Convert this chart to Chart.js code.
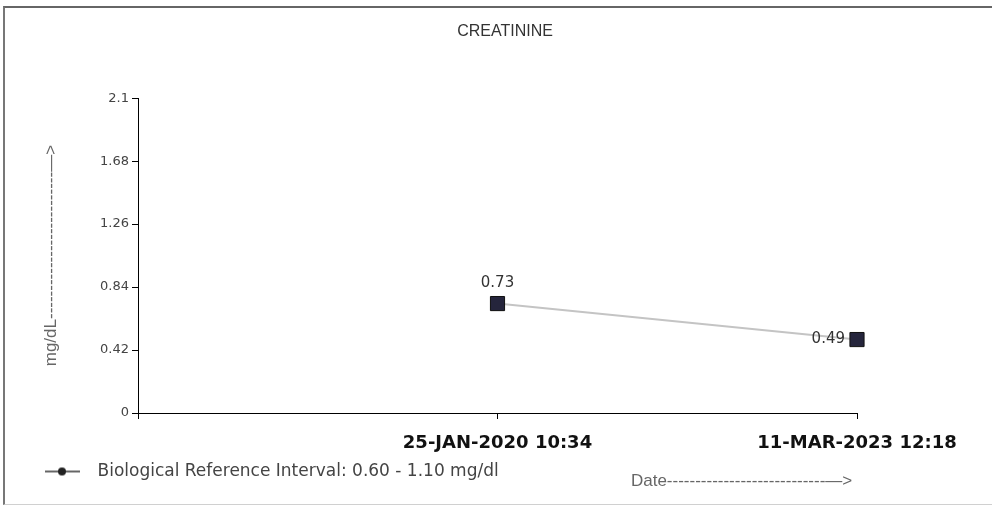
<!DOCTYPE html>
<html><head><meta charset="utf-8">
<script src="https://cdn.jsdelivr.net/npm/chart.js@4.4.0/dist/chart.umd.min.js"></script>
<style>
html,body{margin:0;padding:0;background:#fff;overflow:hidden;}
#wrap{position:relative;width:992px;height:509px;}
#frame{position:absolute;left:3px;top:6px;width:989px;height:496px;border-left:2px solid #777;border-top:2px solid #666;border-bottom:1px solid #d0d0d0;pointer-events:none;}
canvas{position:absolute;left:0;top:0;}
</style></head><body>
<div id="wrap"><canvas id="c" width="992" height="509"></canvas><div id="frame"></div></div>
<script>
const chartTitle = 'CREATININE';
const categories = ['', '25-JAN-2020 10:34', '11-MAR-2023 12:18'];
const values = [null, 0.73, 0.49];
const yTicks = [0, 0.42, 0.84, 1.26, 1.68, 2.1];
const seriesLabel = 'Biological Reference Interval: 0.60 - 1.10 mg/dl';
const yTitle = 'mg/dL';
const xTitle = 'Date';

const yTitleText = yTitle + '-'.repeat(26) + '\u2014>';
const xTitleText = xTitle + '-'.repeat(28) + '\u2014> ';

// legend icon: line with dot
const legendIcon = document.createElement('canvas');
legendIcon.width = 46; legendIcon.height = 12;
(function(){
  const g = legendIcon.getContext('2d');
  g.strokeStyle = '#666'; g.lineWidth = 2;
  g.beginPath(); g.moveTo(2, 6); g.lineTo(37, 6); g.stroke();
  g.fillStyle = '#222'; g.beginPath(); g.arc(19, 6, 4, 0, Math.PI*2); g.fill();
})();

const valueLabels = {
  id: 'valueLabels',
  afterDatasetsDraw(chart, args, opts) {
    const ctx = chart.ctx;
    const meta = chart.getDatasetMeta(0);
    ctx.save();
    ctx.font = opts.font;
    ctx.fillStyle = opts.color;
    meta.data.forEach((pt, i) => {
      const v = chart.data.datasets[0].data[i];
      if (v == null) return;
      if (opts.placement[i] === 'above') {
        ctx.textAlign = 'center'; ctx.textBaseline = 'bottom';
        ctx.fillText(String(v), pt.x, pt.y - 13);
      } else {
        ctx.textAlign = 'right'; ctx.textBaseline = 'middle';
        ctx.fillText(String(v), pt.x - 12, pt.y);
      }
    });
    ctx.restore();
  }
};

new Chart(document.getElementById('c'), {
  type: 'line',
  data: {
    labels: categories,
    datasets: [{
      label: seriesLabel,
      data: values,
      borderColor: '#c4c4c4',
      borderWidth: 2,
      pointStyle: 'rect',
      pointRadius: 10,
      pointHoverRadius: 10,
      pointBackgroundColor: '#25253c',
      pointBorderColor: '#111',
      pointBorderWidth: 1,
      spanGaps: false,
      tension: 0
    }]
  },
  options: {
    responsive: false,
    animation: false,
    devicePixelRatio: 1,
    layout: { padding: { left: 33, right: 15, top: 0, bottom: 19 } },
    plugins: {
      title: {
        display: true, text: chartTitle, color: '#333',
        font: { family: 'Liberation Sans', size: 16, weight: 'normal' },
        padding: { top: 22, bottom: 57 }
      },
      legend: {
        position: 'bottom', align: 'start',
        labels: {
          usePointStyle: true, pointStyleWidth: 46, padding: 10,
          color: '#444',
          font: { family: 'DejaVu Sans', size: 17 },
          generateLabels: () => [{
            text: seriesLabel, pointStyle: legendIcon, fillStyle: '#222',
            strokeStyle: '#666', lineWidth: 0, hidden: false, datasetIndex: 0, fontColor: '#444'
          }]
        }
      },
      tooltip: { enabled: false },
      valueLabels: {
        font: '15px "DejaVu Sans"', color: '#333', placement: ['', 'above', 'left']
      }
    },
    scales: {
      x: {
        type: 'category', offset: false,
        grid: { drawOnChartArea: false, tickLength: 6, color: '#000' },
        border: { color: '#000', width: 1 },
        ticks: { color: '#111', padding: 14, maxRotation: 0, autoSkip: false,
          font: { family: 'DejaVu Sans', size: 18, weight: 'bold' } },
        title: { display: true, text: xTitleText, align: 'end', color: '#666',
          font: { family: 'Liberation Sans', size: 17 }, padding: { top: 0, bottom: -39 } },
        afterFit: (s) => { s.height = 40; s.paddingRight = 135; }
      },
      y: {
        min: 0, max: 2.1,
        afterBuildTicks: (s) => { s.ticks = yTicks.map(v => ({ value: v })); },
        grid: { drawOnChartArea: false, tickLength: 6, color: '#000' },
        border: { color: '#000', width: 1 },
        ticks: { color: '#444', padding: 3, font: { family: 'DejaVu Sans', size: 13 },
          callback: (v) => String(v) },
        title: { display: true, text: yTitleText, color: '#666',
          font: { family: 'Liberation Sans', size: 17 }, padding: { top: 8, bottom: 0 } },
        afterFit: (s) => { s.width = 105; }
      }
    }
  },
  plugins: [valueLabels]
});
</script>
</body></html>
